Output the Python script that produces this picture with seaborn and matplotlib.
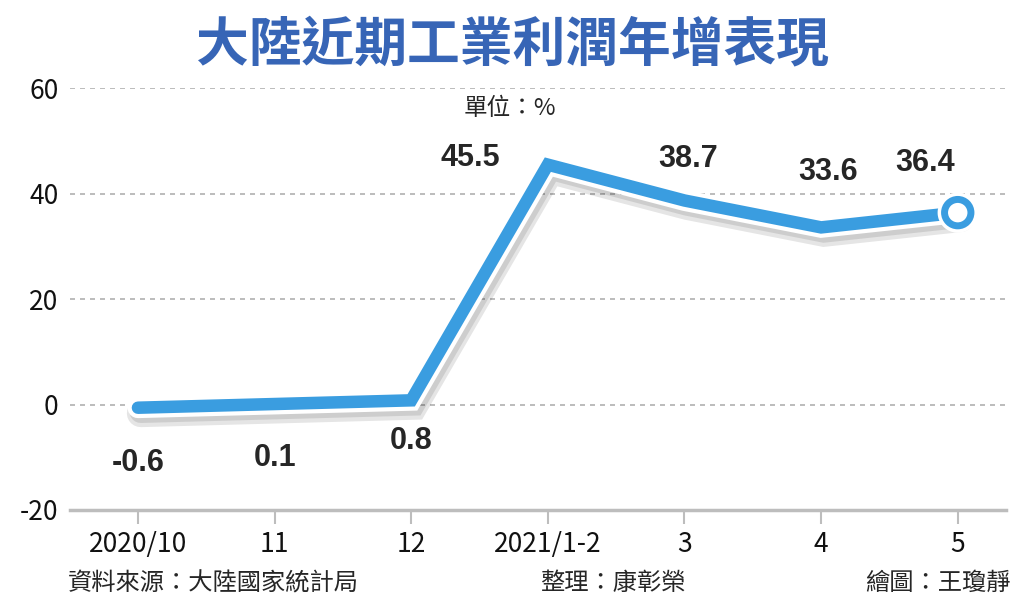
import pandas as pd
import seaborn as sns
import matplotlib.pyplot as plt
import matplotlib.patheffects as pe

months = ['2020/10', '11', '12', '2021/1-2', '3', '4', '5']
growth = [-0.6, 0.1, 0.8, 45.5, 38.7, 33.6, 36.4]
yticks = [-20, 0, 20, 40, 60]

df = pd.DataFrame({'idx': range(len(months)), 'month': months, 'growth': growth})

sns.set_theme(style="white")
plt.rcParams['font.family'] = ['Noto Sans CJK TC', 'DejaVu Sans']
plt.rcParams['axes.unicode_minus'] = False

fig = plt.figure(figsize=(10.24, 6), dpi=100)
ax = fig.add_axes([0.068, 0.15, 0.914, 0.703])

blue = '#3a9de0'
effects = [pe.SimpleLineShadow(offset=(2, -4), shadow_color='black', alpha=0.10, linewidth=20),
           pe.SimpleLineShadow(offset=(2, -3), shadow_color='black', alpha=0.10, linewidth=16),
           pe.Stroke(linewidth=15, foreground='white'),
           pe.Normal()]
sns.lineplot(data=df, x='idx', y='growth', color=blue, linewidth=9, ax=ax,
             solid_joinstyle='miter', solid_capstyle='round', path_effects=effects)
# end marker
ax.plot(df['idx'].iloc[-1], df['growth'].iloc[-1], 'o', ms=19, mfc='white', mec=blue, mew=5,
        path_effects=[pe.Stroke(linewidth=10, foreground='white'), pe.Normal()], zorder=5)

ax.set_xlim(-0.5, 6.35)
ax.set_ylim(-20, 60)
ax.set_yticks(yticks)
ax.set_xticks(df['idx'])
ax.set_xticklabels(months)
ax.set_xlabel('')
ax.set_ylabel('')

for y in yticks[1:]:
    ax.axhline(y, color='#b0b0b0', lw=1.2, ls=(0, (3, 3)), zorder=0)

for s in ['left', 'right', 'top']:
    ax.spines[s].set_visible(False)
ax.spines['bottom'].set_color('#bdbdbd')
ax.spines['bottom'].set_linewidth(2.5)
ax.tick_params(axis='x', length=10, width=1.5, color='#bdbdbd', labelsize=19, labelcolor='#111111',
               pad=5, bottom=True)
ax.tick_params(axis='y', length=0, labelsize=19, labelcolor='#111111', pad=8)

# value labels: (dx in data units, dy in points)
offsets = [(0, -40), (0, -39), (0, -29), (-0.57, 5), (0.03, 30), (0.05, 40), (-0.24, 36)]
for i, v in enumerate(growth):
    dx, dy = offsets[i]
    ax.annotate(f'{v}', (i + dx, v), xytext=(0, dy), textcoords='offset points',
                ha='center', va='center', fontsize=22, fontweight='bold',
                family=['Liberation Sans', 'DejaVu Sans'])

fig.text(0.5, 0.925, '大陸近期工業利潤年增表現', ha='center', va='center',
         fontsize=38, fontweight='bold', color='#3765b6')
fig.text(0.498, 0.82, '單位：%', ha='center', va='center', fontsize=17)
fig.text(0.066, 0.028, '資料來源：大陸國家統計局', ha='left', va='center', fontsize=17.5)
fig.text(0.527, 0.028, '整理：康彰榮', ha='left', va='center', fontsize=17.5)
fig.text(0.987, 0.028, '繪圖：王瓊靜', ha='right', va='center', fontsize=17.5)

fig.savefig('out.png', dpi=100)
